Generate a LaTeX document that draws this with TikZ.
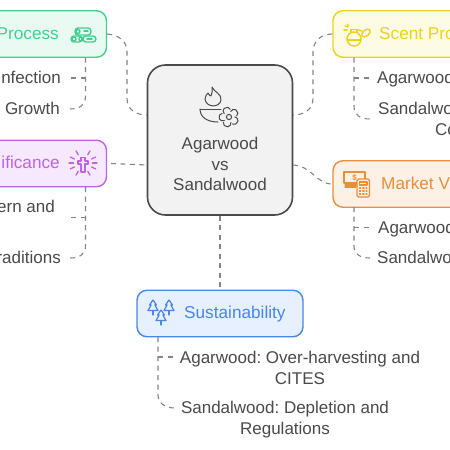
\documentclass[tikz,border=0pt]{standalone}
\usepackage{fontspec}
\setmainfont{Liberation Sans}
\usetikzlibrary{calc}
\definecolor{ink}{HTML}{4A4A4A}
\definecolor{linkc}{HTML}{858585}
\definecolor{gS}{HTML}{45CE92}\definecolor{gF}{HTML}{E9FAF3}
\definecolor{pS}{HTML}{BE63E6}\definecolor{pF}{HTML}{F6E8FD}
\definecolor{yS}{HTML}{ECD21E}\definecolor{yF}{HTML}{FDFBE3}
\definecolor{oS}{HTML}{E88E3C}\definecolor{oF}{HTML}{FDF1E5}
\definecolor{bS}{HTML}{4A86E8}\definecolor{bF}{HTML}{E6F0FE}
\tikzset{
  card/.style={draw,line width=1.4pt,rounded corners=10pt,inner sep=0pt,minimum height=46.5pt},
  hub/.style={draw=ink,fill=black!5,line width=1.6pt,rounded corners=18pt,inner sep=0pt,minimum width=145pt,minimum height=150pt},
  txt/.style={text=ink,font=\fontsize{17}{20.5}\selectfont\frenchspacing,inner sep=0pt},
  head/.style={font=\fontsize{17.2}{20}\selectfont,inner sep=0pt},
  lift/.style={yshift=-2.5pt},
  link/.style={draw=linkc,line width=1.1pt,dash pattern=on 5pt off 4.5pt},
  glyph/.style={line width=1.2pt,line cap=round,line join=round},
}
\newcommand{\treeicon}[2]{%
  \draw[glyph,bS] (#1,#2-9) -- (#1-3.5,#2-4) -- (#1-1.8,#2-4) -- (#1-5,#2+1.5) -- (#1+5,#2+1.5) -- (#1+1.8,#2-4) -- (#1+3.5,#2-4) -- cycle;
  \draw[glyph,bS] (#1,#2+1.5) -- (#1,#2+6);}
\begin{document}
\begin{tikzpicture}[x=1pt,y=-1pt]
\useasboundingbox (0,0) rectangle (450,450);
\clip (0,0) rectangle (450,450);
\fill[white] (0,0) rectangle (450,450);
% boxes
\node[hub] (hubbox) at (220,140) {};
\node[card,draw=gS,fill=gF,minimum width=166pt] (procbox) at (23.5,34) {};
\node[card,draw=pS,fill=pF,minimum width=166pt] (signbox) at (23.5,163.5) {};
\node[card,draw=yS,fill=yF,minimum width=166pt] (scentbox) at (416,34) {};
\node[card,draw=oS,fill=oF,minimum width=166pt] (marketbox) at (416,184) {};
\node[card,draw=bS,fill=bF,minimum width=166pt] (sustbox) at (220,313.5) {};
% free ends
\coordinate (hubL1) at (147,115); \coordinate (hubL2) at (147,165);
\coordinate (hubR1) at (293,115); \coordinate (hubR2) at (293,165);
\coordinate (gA) at (70,78); \coordinate (gB) at (70,109);
\coordinate (pA) at (70,217.5); \coordinate (pB) at (70,258);
\coordinate (yA) at (370,78); \coordinate (yB) at (370,119);
\coordinate (oA) at (370,227.5); \coordinate (oB) at (370,258);
\coordinate (bA) at (175,357); \coordinate (bB) at (175,408);
% connectors
\draw[link] (procbox.east) .. controls (119,35) and (127,41) .. (127,52) -- (127,98) .. controls (127,109) and (135,115) .. (hubL1);
\draw[link] (111,163.5) -- (hubL2);
\draw[link] (scentbox.west) .. controls (321,34) and (313,41) .. (313,52) -- (313,98) .. controls (313,109) and (305,115) .. (hubR1);
\draw[link] (hubR2) .. controls (312,166) and (316,184) .. (marketbox.west);
\draw[link] (hubbox.south) -- (sustbox.north);
\draw[link] (85.5,57.5) -- (85.5,96) .. controls (85.5,105) and (80,109) .. (gB);
\draw[link] (85.5,78) -- (gA);
\draw[link] (85.5,187) -- (85.5,246) .. controls (85.5,254) and (80,258) .. (pB);
\draw[link] (85.5,217.5) -- (pA);
\draw[link] (354,57.5) -- (354,106) .. controls (354,115) and (360,119) .. (yB);
\draw[link] (354,78) -- (yA);
\draw[link] (354,207) -- (354,246) .. controls (354,254) and (360,258) .. (oB);
\draw[link] (354,227.5) -- (oA);
\draw[link] (158,337) -- (158,395) .. controls (158,403) and (165,408) .. (bB);
\draw[link] (158,357) -- (bA);
% hub text
\node[txt,align=center] (hubtxt) at (220,164) {Agarwood\\vs\\Sandalwood};
% headings
\node[head,lift,text=gS,anchor=mid east] (proctxt) at (59,34) {Process};
\node[head,lift,text=pS,anchor=mid east] (signtxt) at (60,163.5) {ificance};
\node[head,lift,text=yS,anchor=mid west] (scenttxt) at (379,34) {Scent Pro};
\node[head,lift,text=oS,anchor=mid west] (markettxt) at (381,184) {Market V};
\node[head,lift,text=bS,anchor=mid west] (susttxt) at (184,313.5) {Sustainability};
% leaf text
\node[txt,lift,anchor=mid east] (t1) at (61,78) {nfection};
\node[txt,lift,anchor=mid east] (t2) at (60,109) {Growth};
\node[txt,lift,anchor=mid east] (t3) at (55,207) {ern and};
\node[txt,lift,anchor=mid east] (t4) at (61,258) {raditions};
\node[txt,lift,anchor=mid west] (t5) at (377,78) {Agarwood};
\node[txt,lift,anchor=mid west] (t6) at (378,109) {Sandalwo};
\node[txt,lift,anchor=mid west] (t7) at (435,130) {Co};
\node[txt,lift,anchor=mid west] (t8) at (378,228) {Agarwood};
\node[txt,lift,anchor=mid west] (t9) at (377,258) {Sandalwo};
\node[txt,align=center] (t10) at (300,368) {Agarwood: Over-harvesting and\\CITES};
\node[txt,align=center] (t11) at (285,419.5) {Sandalwood: Depletion and\\Regulations};
% hub icon
\begin{scope}[glyph,draw=ink,line width=1pt]
\draw (212,87) .. controls (214,92) and (222,94) .. (221,100) .. controls (220,108) and (206,108) .. (205,99) .. controls (205,96) and (207,94) .. (208,93) .. controls (209,95) and (210,96) .. (211,96) .. controls (213,93) and (212,90) .. (212,87) -- cycle;
\draw (200,109) -- (221,109);
\draw (200,109) .. controls (200,117) and (207,122) .. (218,122);
\foreach \a in {90,162,234,306,378}
  \draw (229,117) ++(\a:4.8) ++(\a-72:2) arc[start angle=\a-100,end angle=\a+100,radius=3.8];
\draw (229,117) circle (2.6);
\end{scope}
% logs icon
\begin{scope}[glyph,draw=gS,line width=1.4pt]
\draw[rounded corners=3pt] (75,28) rectangle (91,35);
\draw[rounded corners=3pt] (71,36) rectangle (82,42);
\draw[rounded corners=3pt] (83,36) rectangle (96,42);
\draw (78,31.5) circle (2); \draw (74,39) circle (2); \draw (81,39) circle (2);
\draw (84,31) -- (88,31); \draw (87,39) -- (92,39);
\end{scope}
% cross icon
\begin{scope}[glyph,draw=pS,line width=1.3pt]
\draw (81,157.5) -- (85,157.5) -- (85,161) -- (88,161) -- (88,164) -- (85,164) -- (85,172) -- (81,172) -- (81,164) -- (78,164) -- (78,161) -- (81,161) -- cycle;
\foreach \a in {0,180,205,-25,25,155,120,60,-60,-120}
  \draw (83,163) ++(\a:9.5) -- ++(\a:4.5);
\end{scope}
% perfume icon
\begin{scope}[glyph,draw=yS,line width=1.4pt]
\draw (354,39) circle (7);
\draw (347.5,40) -- (360.5,40);
\draw (351,32) -- (351,29.5) -- (357,29.5) -- (357,32);
\draw (358,30) -- (362,31);
\draw[rotate around={40:(366,33)}] (366,33) ellipse (5 and 3);
\draw (345,26) -- (348,27); \draw (344,30) -- (347,30); \draw (347,24) -- (349,26);
\end{scope}
% money icon
\begin{scope}[glyph,draw=oS,line width=1.3pt]
\draw[fill=oF] (344,172) rectangle (365,183);
\draw (345,185) -- (358,185); \draw (345,187) -- (356,187);
\node[text=oS,font=\fontsize{8}{8}\selectfont\bfseries,inner sep=0pt] (dollar) at (354.5,177.5) {\$};
\draw[fill=oF,rounded corners=1.5pt] (357,179) rectangle (369.5,197);
\draw (359.5,182) rectangle (367,185);
\foreach \y in {188,191,194} \draw[dotted] (359.5,\y) -- (367,\y);
\end{scope}
% tree icon
\treeicon{153}{309}\treeicon{169}{309}\treeicon{161}{319}
\end{tikzpicture}
\end{document}
